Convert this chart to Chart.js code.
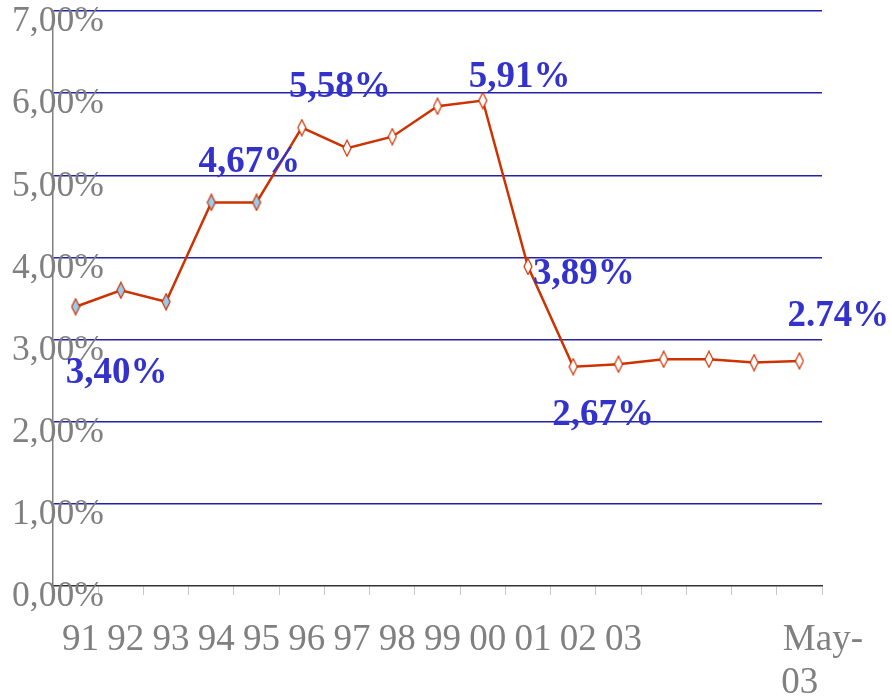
<!DOCTYPE html>
<html>
<head>
<meta charset="utf-8">
<script src="https://cdn.jsdelivr.net/npm/chart.js@4.4.0/dist/chart.umd.min.js"></script>
<style>
html, body { margin: 0; padding: 0; background: #fff; }
</style>
</head>
<body>
<canvas id="rateChart" width="892" height="700"></canvas>
<script>
// Categories (years, last one is May 2003)
const YEARS = ['91', '92', '93', '94', '95', '96', '97', '98', '99', '00', '01', '02', '03', '', '', '', 'May-03'];
// Rate in percent
const RATES = [3.40, 3.60, 3.46, 4.67, 4.67, 5.58, 5.33, 5.47, 5.84, 5.91, 3.89, 2.67, 2.70, 2.76, 2.76, 2.72, 2.74];
// Y axis ticks
const Y_TICKS = [0, 1, 2, 3, 4, 5, 6, 7];
// Annotated points
const NOTE_INDEX = [0, 3, 5, 9, 10, 11, 16];
const NOTE_TEXT = ['3,40%', '4,67%', '5,58%', '5,91%', '3,89%', '2,67%', '2.74%'];

// Colors
const LINE_COLOR = '#cc3300';
const NOTE_COLOR = '#3333cc';
const AXIS_TEXT = '#808080';
const GRID_COLOR = '#2323a8';
const SERIF = "'Liberation Serif', 'Times New Roman', serif";

// label offsets from the point (dx, dy)
const NOTE_SHIFT = [[41, 67], [38, -40], [38, -40], [37, -23], [56, 8], [30, 49], [39, -44]];
const BLUE_POINTS = 5;

// Tall diamond marker
function makeDiamond(fill) {
    const c = document.createElement('canvas');
    c.width = 10;
    c.height = 18;
    const g = c.getContext('2d');
    g.beginPath();
    g.moveTo(5, 1);
    g.lineTo(9, 9);
    g.lineTo(5, 17);
    g.lineTo(1, 9);
    g.closePath();
    g.fillStyle = fill;
    g.fill();
    g.strokeStyle = LINE_COLOR;
    g.lineWidth = 1.2;
    g.stroke();
    return c;
}
const blueDiamond = makeDiamond('#99ccf0');
const whiteDiamond = makeDiamond('#ffffff');

// Draw the blue value notes next to their points
const notesPlugin = {
    id: 'notes',
    afterDatasetsDraw(chart) {
        const meta = chart.getDatasetMeta(0);
        const ctx = chart.ctx;
        ctx.save();
        ctx.font = 'bold 37px ' + SERIF;
        ctx.fillStyle = NOTE_COLOR;
        ctx.textAlign = 'center';
        ctx.textBaseline = 'middle';
        NOTE_INDEX.forEach((idx, i) => {
            const pt = meta.data[idx];
            ctx.fillText(NOTE_TEXT[i], pt.x + NOTE_SHIFT[i][0], pt.y + NOTE_SHIFT[i][1]);
        });
        ctx.restore();
    }
};

new Chart(document.getElementById('rateChart').getContext('2d'), {
    type: 'line',
    data: {
        labels: YEARS,
        datasets: [{
            data: RATES,
            borderColor: LINE_COLOR,
            borderWidth: 2.5,
            tension: 0,
            fill: false,
            pointStyle: ctx => ctx.dataIndex < BLUE_POINTS ? blueDiamond : whiteDiamond,
            pointRadius: 8
        }]
    },
    options: {
        responsive: false,
        animation: false,
        devicePixelRatio: 1,
        layout: {
            padding: { top: 11, right: 70, left: 0, bottom: 0 }
        },
        plugins: {
            legend: { display: false },
            tooltip: { enabled: false }
        },
        scales: {
            x: {
                offset: true,
                grid: {
                    offset: true,
                    drawOnChartArea: false,
                    drawTicks: true,
                    tickLength: 9,
                    color: '#c8c8c8',
                    lineWidth: 1
                },
                border: { color: '#333333', width: 1.5 },
                ticks: {
                    autoSkip: false,
                    maxRotation: 0,
                    minRotation: 0,
                    padding: 24,
                    labelOffset: 5,
                    color: AXIS_TEXT,
                    font: { family: SERIF, size: 37, lineHeight: 1.15 },
                    callback: (v, i) => {
                        const s = YEARS[i];
                        if (s.indexOf('-') > 0) {
                            const parts = s.split('-');
                            return ['    ' + parts[0] + '-', parts[1] + ' '];
                        }
                        return s;
                    }
                },
                afterFit: scale => { scale.height = 114; }
            },
            y: {
                min: Y_TICKS[0],
                max: Y_TICKS[Y_TICKS.length - 1],
                grid: {
                    drawTicks: false,
                    color: ctx => ctx.tick && ctx.tick.value === 0 ? 'rgba(0,0,0,0)' : GRID_COLOR,
                    lineWidth: 1.4
                },
                border: { color: '#808080', width: 1.5 },
                afterBuildTicks: scale => {
                    scale.ticks = Y_TICKS.map(v => ({ value: v }));
                },
                ticks: {
                    mirror: true,
                    padding: -41,
                    labelOffset: 11,
                    color: AXIS_TEXT,
                    font: { family: SERIF, size: 35.5 },
                    callback: v => v.toFixed(2).replace('.', ',') + '%'
                },
                afterFit: scale => { scale.width = 53; }
            }
        }
    },
    plugins: [notesPlugin]
});
</script>
</body>
</html>
